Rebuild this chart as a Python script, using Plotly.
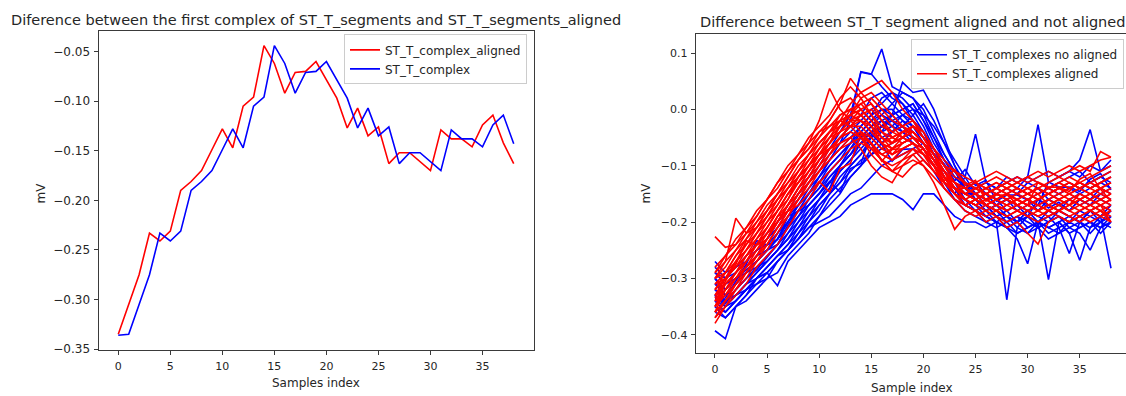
import plotly.graph_objects as go

# ---------------- data ----------------
samples = list(range(39))

# Left panel: first complex
st_t_complex_aligned = [-0.335, -0.305, -0.275, -0.233, -0.241, -0.231, -0.190, -0.181, -0.170, -0.149,
                        -0.128, -0.147, -0.105, -0.096, -0.044, -0.062, -0.092, -0.071, -0.070, -0.060,
                        -0.078, -0.097, -0.127, -0.107, -0.135, -0.126, -0.163, -0.152, -0.152, -0.161,
                        -0.170, -0.129, -0.138, -0.138, -0.146, -0.124, -0.114, -0.142, -0.163]
st_t_complex = [-0.336, -0.335, -0.305, -0.275, -0.233, -0.241, -0.231, -0.190, -0.181, -0.170,
                -0.149, -0.128, -0.147, -0.105, -0.096, -0.044, -0.062, -0.092, -0.071, -0.070,
                -0.060, -0.078, -0.097, -0.127, -0.107, -0.135, -0.126, -0.163, -0.152, -0.152,
                -0.161, -0.170, -0.129, -0.138, -0.138, -0.146, -0.124, -0.114, -0.143]

# Right panel: complexes not aligned (blue)
blue_01 = [-0.330,-0.345,-0.320,-0.300,-0.285,-0.262,-0.240,-0.205,-0.180,-0.150,-0.120,-0.090,-0.060,-0.020,0.066,0.062,0.107,0.040,0.030,0.020,-0.010,-0.050,-0.090,-0.120,-0.140,-0.150,-0.170,-0.160,-0.180,-0.170,-0.190,-0.160,-0.175,-0.165,-0.180,-0.160,-0.170,-0.150,-0.140]
blue_02 = [-0.393,-0.407,-0.350,-0.330,-0.310,-0.300,-0.270,-0.250,-0.220,-0.190,-0.160,-0.140,-0.100,-0.080,-0.050,-0.030,-0.010,-0.020,-0.040,-0.050,-0.070,-0.100,-0.120,-0.140,-0.160,-0.170,-0.180,-0.170,-0.190,-0.200,-0.180,-0.190,-0.200,-0.180,-0.190,-0.200,-0.180,-0.190,-0.170]
blue_03 = [-0.300,-0.320,-0.300,-0.285,-0.270,-0.250,-0.230,-0.210,-0.180,-0.160,-0.130,-0.110,-0.090,-0.060,-0.040,-0.020,0.000,0.000,-0.020,-0.040,-0.060,-0.090,-0.120,-0.140,-0.170,-0.180,-0.190,-0.200,-0.338,-0.210,-0.190,-0.200,-0.190,-0.180,-0.190,-0.200,-0.180,-0.190,-0.180]
blue_04 = [-0.340,-0.350,-0.330,-0.310,-0.290,-0.270,-0.250,-0.220,-0.200,-0.170,-0.150,-0.130,-0.100,-0.080,-0.060,-0.050,-0.030,-0.020,-0.030,-0.050,-0.060,-0.080,-0.110,-0.140,-0.160,-0.170,-0.190,-0.200,-0.210,-0.230,-0.274,-0.200,-0.302,-0.200,-0.190,-0.200,-0.180,-0.200,-0.190]
blue_05 = [-0.310,-0.330,-0.310,-0.290,-0.280,-0.260,-0.240,-0.220,-0.190,-0.170,-0.150,-0.120,-0.100,-0.080,-0.060,-0.040,-0.040,-0.030,-0.040,-0.060,-0.080,-0.100,-0.130,-0.150,-0.170,-0.180,-0.200,-0.210,-0.200,-0.220,-0.210,-0.200,-0.220,-0.210,-0.256,-0.200,-0.210,-0.190,-0.282]
blue_06 = [-0.320,-0.340,-0.320,-0.300,-0.280,-0.270,-0.250,-0.230,-0.200,-0.180,-0.160,-0.130,-0.110,-0.090,-0.060,-0.040,-0.020,-0.010,0.000,0.010,-0.020,-0.060,-0.090,-0.110,-0.130,-0.140,-0.130,-0.140,-0.120,-0.130,-0.120,-0.027,-0.130,-0.120,-0.110,-0.120,-0.100,-0.110,-0.090]
blue_07 = [-0.290,-0.310,-0.300,-0.280,-0.260,-0.250,-0.230,-0.200,-0.180,-0.160,-0.140,-0.120,-0.100,-0.070,-0.050,-0.040,-0.030,-0.040,-0.030,-0.050,-0.070,-0.100,-0.130,-0.150,-0.120,-0.044,-0.130,-0.140,-0.130,-0.120,-0.130,-0.120,-0.110,-0.120,-0.110,-0.090,-0.036,-0.110,-0.100]
blue_08 = [-0.330,-0.350,-0.340,-0.320,-0.300,-0.290,-0.270,-0.250,-0.230,-0.200,-0.180,-0.150,-0.130,-0.100,-0.080,-0.060,-0.040,-0.010,0.048,0.030,0.034,0.000,-0.050,-0.100,-0.130,-0.150,-0.170,-0.180,-0.190,-0.200,-0.180,-0.200,-0.210,-0.200,-0.220,-0.268,-0.210,-0.200,-0.190]
blue_09 = [-0.330,-0.340,-0.330,-0.310,-0.300,-0.290,-0.313,-0.270,-0.250,-0.230,-0.210,-0.200,-0.190,-0.170,-0.160,-0.150,-0.150,-0.150,-0.160,-0.178,-0.150,-0.150,-0.170,-0.190,-0.200,-0.200,-0.210,-0.200,-0.210,-0.220,-0.210,-0.200,-0.210,-0.220,-0.200,-0.210,-0.200,-0.210,-0.200]
blue_10 = [-0.300,-0.320,-0.300,-0.280,-0.260,-0.230,-0.210,-0.180,-0.160,-0.130,-0.100,-0.070,-0.040,-0.010,0.067,0.063,0.040,0.020,0.010,-0.010,-0.040,-0.070,-0.100,-0.120,-0.140,-0.150,-0.160,-0.150,-0.160,-0.150,-0.160,-0.150,-0.140,-0.150,-0.140,-0.150,-0.140,-0.130,-0.140]
blue_11 = [-0.350,-0.360,-0.340,-0.320,-0.300,-0.280,-0.260,-0.240,-0.210,-0.190,-0.170,-0.150,-0.130,-0.110,-0.090,-0.080,-0.070,-0.060,-0.050,-0.060,-0.080,-0.100,-0.130,-0.160,-0.180,-0.190,-0.200,-0.190,-0.210,-0.200,-0.220,-0.210,-0.230,-0.220,-0.210,-0.220,-0.250,-0.210,-0.200]
blue_12 = [-0.280,-0.300,-0.290,-0.270,-0.250,-0.230,-0.200,-0.180,-0.150,-0.130,-0.110,-0.080,-0.060,-0.040,-0.020,0.000,0.010,0.030,0.020,0.000,-0.030,-0.070,-0.100,-0.130,-0.150,-0.150,-0.140,-0.150,-0.140,-0.150,-0.130,-0.140,-0.150,-0.140,-0.130,-0.140,-0.130,-0.120,-0.110]
blue_13 = [-0.360,-0.370,-0.350,-0.330,-0.300,-0.280,-0.260,-0.250,-0.230,-0.210,-0.200,-0.190,-0.170,-0.150,-0.140,-0.120,-0.100,-0.090,-0.080,-0.070,-0.090,-0.110,-0.140,-0.160,-0.170,-0.180,-0.190,-0.200,-0.210,-0.200,-0.190,-0.210,-0.200,-0.190,-0.200,-0.180,-0.190,-0.200,-0.180]
blue_14 = [-0.320,-0.330,-0.310,-0.290,-0.270,-0.250,-0.230,-0.200,-0.170,-0.140,-0.120,-0.090,-0.070,-0.050,-0.030,-0.010,0.020,0.030,0.010,-0.020,-0.050,-0.080,-0.120,-0.140,-0.150,-0.160,-0.150,-0.170,-0.160,-0.170,-0.160,-0.180,-0.160,-0.170,-0.160,-0.150,-0.160,-0.140,-0.150]
blue_15 = [-0.270,-0.290,-0.280,-0.270,-0.250,-0.240,-0.220,-0.190,-0.170,-0.150,-0.130,-0.100,-0.080,-0.060,-0.050,-0.030,-0.020,-0.030,-0.010,-0.030,-0.060,-0.090,-0.110,-0.130,-0.140,-0.130,-0.150,-0.140,-0.130,-0.140,-0.120,-0.130,-0.140,-0.130,-0.120,-0.110,-0.130,-0.120,-0.130]
blue_16 = [-0.340,-0.340,-0.330,-0.310,-0.290,-0.270,-0.250,-0.230,-0.210,-0.180,-0.160,-0.140,-0.110,-0.090,-0.070,-0.050,-0.030,-0.010,0.000,0.010,-0.020,-0.050,-0.080,-0.110,-0.130,-0.160,-0.170,-0.190,-0.200,-0.190,-0.200,-0.210,-0.200,-0.190,-0.210,-0.200,-0.220,-0.200,-0.210]
blue_17 = [-0.300,-0.330,-0.310,-0.290,-0.270,-0.250,-0.240,-0.210,-0.190,-0.160,-0.140,-0.110,-0.090,-0.070,-0.040,-0.020,-0.010,0.010,0.030,0.020,0.000,-0.040,-0.080,-0.110,-0.140,-0.150,-0.160,-0.170,-0.160,-0.180,-0.170,-0.160,-0.170,-0.180,-0.160,-0.170,-0.160,-0.150,-0.160]
blue_18 = [-0.350,-0.370,-0.350,-0.340,-0.320,-0.300,-0.290,-0.260,-0.240,-0.220,-0.190,-0.170,-0.150,-0.120,-0.100,-0.070,-0.050,-0.040,-0.020,-0.030,-0.050,-0.070,-0.100,-0.130,-0.160,-0.180,-0.170,-0.190,-0.180,-0.200,-0.190,-0.200,-0.180,-0.190,-0.200,-0.190,-0.180,-0.170,-0.180]
blue_19 = [-0.290,-0.300,-0.280,-0.260,-0.240,-0.220,-0.200,-0.170,-0.140,-0.120,-0.090,-0.070,-0.050,-0.030,-0.010,0.020,0.030,0.010,-0.010,-0.020,-0.040,-0.080,-0.110,-0.130,-0.150,-0.140,-0.150,-0.160,-0.150,-0.140,-0.150,-0.140,-0.160,-0.150,-0.140,-0.130,-0.140,-0.130,-0.120]
blue_20 = [-0.330,-0.350,-0.330,-0.320,-0.300,-0.280,-0.260,-0.240,-0.220,-0.200,-0.170,-0.150,-0.120,-0.100,-0.080,-0.050,-0.030,-0.020,-0.010,0.000,-0.010,-0.030,-0.060,-0.090,-0.120,-0.150,-0.170,-0.180,-0.200,-0.190,-0.210,-0.200,-0.190,-0.210,-0.200,-0.190,-0.200,-0.210,-0.190]
blue_21 = [-0.310,-0.320,-0.300,-0.290,-0.270,-0.250,-0.220,-0.200,-0.170,-0.150,-0.120,-0.100,-0.080,-0.060,-0.030,-0.010,0.000,-0.010,-0.030,-0.050,-0.060,-0.090,-0.120,-0.150,-0.170,-0.160,-0.180,-0.170,-0.160,-0.170,-0.180,-0.170,-0.160,-0.170,-0.180,-0.160,-0.170,-0.160,-0.170]
blue_22 = [-0.340,-0.360,-0.340,-0.320,-0.310,-0.290,-0.270,-0.250,-0.230,-0.210,-0.190,-0.160,-0.140,-0.120,-0.100,-0.080,-0.060,-0.040,-0.030,-0.010,0.010,-0.020,-0.060,-0.100,-0.140,-0.160,-0.180,-0.200,-0.190,-0.210,-0.220,-0.200,-0.210,-0.200,-0.220,-0.210,-0.200,-0.220,-0.200]

# Right panel: complexes aligned (red)
red_01 = [-0.226,-0.245,-0.240,-0.220,-0.200,-0.180,-0.150,-0.130,-0.100,-0.080,-0.060,-0.040,-0.030,-0.020,-0.020,-0.040,-0.060,-0.070,-0.060,-0.050,-0.070,-0.090,-0.110,-0.130,-0.140,-0.150,-0.140,-0.150,-0.140,-0.150,-0.140,-0.150,-0.140,-0.130,-0.140,-0.130,-0.140,-0.130,-0.120]
red_02 = [-0.300,-0.270,-0.193,-0.220,-0.210,-0.180,-0.150,-0.120,-0.090,-0.060,-0.020,0.037,0.000,-0.020,-0.040,-0.060,-0.080,-0.090,-0.080,-0.070,-0.090,-0.110,-0.130,-0.150,-0.160,-0.150,-0.170,-0.160,-0.150,-0.160,-0.170,-0.160,-0.150,-0.160,-0.150,-0.140,-0.150,-0.140,-0.150]
red_03 = [-0.320,-0.300,-0.280,-0.250,-0.220,-0.200,-0.170,-0.140,-0.110,-0.080,-0.050,-0.020,0.010,0.055,0.030,0.010,-0.020,-0.040,-0.050,-0.040,-0.060,-0.090,-0.120,-0.140,-0.150,-0.160,-0.150,-0.160,-0.170,-0.160,-0.150,-0.160,-0.150,-0.140,-0.150,-0.160,-0.150,-0.140,-0.130]
red_04 = [-0.340,-0.320,-0.300,-0.280,-0.250,-0.230,-0.200,-0.170,-0.140,-0.110,-0.080,-0.050,-0.020,0.010,0.030,0.040,0.051,0.030,0.000,-0.020,-0.050,-0.080,-0.110,-0.130,-0.150,-0.160,-0.170,-0.160,-0.170,-0.160,-0.170,-0.180,-0.170,-0.160,-0.170,-0.160,-0.150,-0.160,-0.150]
red_05 = [-0.360,-0.340,-0.310,-0.290,-0.270,-0.240,-0.210,-0.190,-0.160,-0.130,-0.110,-0.090,-0.070,-0.060,-0.050,-0.070,-0.090,-0.100,-0.090,-0.080,-0.100,-0.130,-0.170,-0.213,-0.190,-0.180,-0.200,-0.190,-0.210,-0.200,-0.220,-0.239,-0.200,-0.190,-0.200,-0.190,-0.200,-0.190,-0.200]
red_06 = [-0.310,-0.290,-0.270,-0.240,-0.220,-0.190,-0.160,-0.130,-0.110,-0.080,-0.060,-0.040,-0.020,-0.010,-0.020,-0.040,-0.060,-0.050,-0.040,-0.030,-0.050,-0.080,-0.100,-0.120,-0.130,-0.140,-0.130,-0.120,-0.130,-0.120,-0.130,-0.120,-0.110,-0.120,-0.110,-0.100,-0.110,-0.075,-0.085]
red_07 = [-0.380,-0.350,-0.320,-0.300,-0.270,-0.250,-0.220,-0.190,-0.160,-0.140,-0.110,-0.090,-0.070,-0.050,-0.040,-0.060,-0.080,-0.090,-0.070,-0.060,-0.080,-0.100,-0.130,-0.150,-0.170,-0.180,-0.170,-0.180,-0.190,-0.180,-0.170,-0.180,-0.190,-0.180,-0.190,-0.180,-0.170,-0.180,-0.200]
red_08 = [-0.330,-0.310,-0.290,-0.260,-0.230,-0.210,-0.180,-0.160,-0.120,-0.100,-0.070,-0.050,-0.030,0.000,0.010,-0.010,-0.030,-0.040,-0.030,-0.020,-0.040,-0.070,-0.100,-0.130,-0.140,-0.150,-0.140,-0.130,-0.140,-0.150,-0.140,-0.130,-0.140,-0.150,-0.140,-0.130,-0.140,-0.150,-0.140]
red_09 = [-0.350,-0.320,-0.300,-0.270,-0.250,-0.220,-0.190,-0.170,-0.140,-0.120,-0.090,-0.070,-0.060,-0.050,-0.070,-0.100,-0.120,-0.130,-0.100,-0.080,-0.070,-0.090,-0.110,-0.140,-0.160,-0.170,-0.160,-0.170,-0.180,-0.170,-0.160,-0.170,-0.180,-0.170,-0.160,-0.170,-0.180,-0.170,-0.160]
red_10 = [-0.290,-0.270,-0.250,-0.230,-0.200,-0.170,-0.150,-0.120,-0.090,-0.070,-0.040,-0.020,0.010,0.020,0.000,-0.020,-0.050,-0.060,-0.040,-0.030,-0.050,-0.070,-0.090,-0.110,-0.130,-0.140,-0.150,-0.140,-0.130,-0.140,-0.150,-0.140,-0.130,-0.120,-0.130,-0.140,-0.130,-0.120,-0.110]
red_11 = [-0.340,-0.330,-0.310,-0.290,-0.260,-0.240,-0.210,-0.180,-0.150,-0.130,-0.100,-0.080,-0.050,-0.030,-0.010,0.000,-0.020,-0.050,-0.060,-0.050,-0.060,-0.080,-0.110,-0.140,-0.150,-0.160,-0.170,-0.160,-0.150,-0.170,-0.160,-0.150,-0.170,-0.160,-0.170,-0.150,-0.160,-0.170,-0.160]
red_12 = [-0.300,-0.280,-0.250,-0.220,-0.190,-0.160,-0.130,-0.100,-0.080,-0.050,-0.030,-0.010,0.020,0.040,0.020,-0.010,-0.040,-0.060,-0.050,-0.040,-0.060,-0.090,-0.120,-0.140,-0.150,-0.140,-0.150,-0.160,-0.150,-0.140,-0.150,-0.160,-0.150,-0.140,-0.130,-0.140,-0.130,-0.140,-0.130]
red_13 = [-0.370,-0.350,-0.330,-0.310,-0.280,-0.260,-0.240,-0.210,-0.180,-0.160,-0.130,-0.110,-0.090,-0.070,-0.060,-0.070,-0.090,-0.110,-0.100,-0.090,-0.100,-0.120,-0.140,-0.160,-0.180,-0.190,-0.180,-0.190,-0.200,-0.190,-0.180,-0.190,-0.180,-0.190,-0.200,-0.190,-0.180,-0.190,-0.180]
red_14 = [-0.320,-0.300,-0.280,-0.260,-0.240,-0.210,-0.180,-0.150,-0.130,-0.100,-0.080,-0.060,-0.040,-0.030,-0.030,-0.050,-0.070,-0.060,-0.040,-0.030,-0.040,-0.070,-0.100,-0.110,-0.120,-0.130,-0.120,-0.110,-0.120,-0.130,-0.120,-0.110,-0.120,-0.110,-0.100,-0.110,-0.100,-0.090,-0.085]
red_15 = [-0.350,-0.330,-0.300,-0.280,-0.260,-0.230,-0.200,-0.170,-0.150,-0.120,-0.100,-0.070,-0.050,-0.040,-0.050,-0.080,-0.100,-0.110,-0.090,-0.070,-0.080,-0.100,-0.120,-0.150,-0.170,-0.160,-0.170,-0.180,-0.170,-0.160,-0.170,-0.180,-0.170,-0.180,-0.170,-0.160,-0.170,-0.180,-0.170]
red_16 = [-0.310,-0.300,-0.270,-0.250,-0.230,-0.200,-0.180,-0.150,-0.120,-0.100,-0.080,-0.060,-0.030,-0.010,0.010,0.020,0.000,-0.020,-0.030,-0.040,-0.060,-0.080,-0.110,-0.130,-0.150,-0.140,-0.150,-0.140,-0.150,-0.160,-0.150,-0.140,-0.150,-0.160,-0.150,-0.160,-0.150,-0.140,-0.150]
red_17 = [-0.280,-0.260,-0.240,-0.210,-0.190,-0.160,-0.140,-0.110,-0.090,-0.070,-0.050,-0.030,-0.020,-0.030,-0.050,-0.070,-0.080,-0.070,-0.050,-0.040,-0.060,-0.090,-0.120,-0.140,-0.150,-0.140,-0.150,-0.140,-0.130,-0.140,-0.150,-0.140,-0.150,-0.140,-0.130,-0.140,-0.150,-0.160,-0.150]
red_18 = [-0.360,-0.320,-0.290,-0.270,-0.240,-0.220,-0.190,-0.160,-0.130,-0.110,-0.090,-0.060,-0.040,-0.020,-0.010,-0.030,-0.060,-0.080,-0.070,-0.060,-0.070,-0.100,-0.130,-0.150,-0.160,-0.170,-0.160,-0.170,-0.180,-0.170,-0.180,-0.170,-0.160,-0.170,-0.180,-0.170,-0.180,-0.190,-0.180]
red_19 = [-0.330,-0.300,-0.270,-0.250,-0.220,-0.190,-0.170,-0.140,-0.110,-0.090,-0.060,-0.040,-0.010,0.000,-0.010,-0.030,-0.050,-0.070,-0.060,-0.050,-0.060,-0.090,-0.110,-0.130,-0.140,-0.150,-0.160,-0.150,-0.160,-0.150,-0.160,-0.170,-0.160,-0.150,-0.160,-0.170,-0.160,-0.150,-0.160]
red_20 = [-0.350,-0.310,-0.290,-0.260,-0.240,-0.210,-0.180,-0.150,-0.130,-0.100,-0.070,-0.050,-0.040,-0.020,0.000,-0.020,-0.040,-0.050,-0.040,-0.040,-0.060,-0.080,-0.110,-0.140,-0.160,-0.170,-0.160,-0.150,-0.160,-0.170,-0.160,-0.170,-0.180,-0.170,-0.160,-0.150,-0.160,-0.170,-0.180]
red_21 = [-0.300,-0.290,-0.260,-0.240,-0.210,-0.190,-0.160,-0.140,-0.120,-0.090,-0.070,-0.040,-0.020,-0.010,0.020,0.030,0.010,-0.010,-0.030,-0.050,-0.070,-0.100,-0.120,-0.140,-0.140,-0.130,-0.140,-0.130,-0.140,-0.130,-0.120,-0.130,-0.140,-0.130,-0.120,-0.130,-0.120,-0.110,-0.100]
red_22 = [-0.370,-0.340,-0.320,-0.290,-0.260,-0.240,-0.210,-0.180,-0.160,-0.130,-0.110,-0.080,-0.060,-0.050,-0.040,-0.050,-0.070,-0.080,-0.060,-0.050,-0.070,-0.100,-0.140,-0.160,-0.170,-0.180,-0.190,-0.180,-0.190,-0.180,-0.190,-0.200,-0.190,-0.180,-0.190,-0.200,-0.190,-0.180,-0.190]
red_23 = [-0.320,-0.290,-0.260,-0.230,-0.210,-0.180,-0.160,-0.140,-0.120,-0.100,-0.080,-0.070,-0.050,-0.040,-0.050,-0.060,-0.090,-0.110,-0.120,-0.100,-0.090,-0.110,-0.130,-0.140,-0.150,-0.160,-0.150,-0.140,-0.150,-0.140,-0.150,-0.160,-0.150,-0.140,-0.150,-0.140,-0.130,-0.140,-0.130]
red_24 = [-0.340,-0.310,-0.290,-0.270,-0.240,-0.220,-0.200,-0.170,-0.140,-0.110,-0.080,-0.060,-0.030,-0.010,0.000,0.010,-0.010,-0.030,-0.050,-0.060,-0.080,-0.110,-0.130,-0.150,-0.170,-0.160,-0.170,-0.180,-0.170,-0.180,-0.190,-0.180,-0.170,-0.180,-0.170,-0.180,-0.170,-0.160,-0.170]
red_25 = [-0.290,-0.260,-0.230,-0.210,-0.180,-0.160,-0.130,-0.110,-0.080,-0.060,-0.040,-0.030,-0.010,0.000,-0.010,-0.030,-0.060,-0.080,-0.070,-0.060,-0.080,-0.100,-0.120,-0.130,-0.140,-0.130,-0.140,-0.150,-0.140,-0.130,-0.140,-0.150,-0.140,-0.130,-0.140,-0.130,-0.140,-0.130,-0.120]
red_26 = [-0.360,-0.340,-0.310,-0.280,-0.260,-0.230,-0.200,-0.180,-0.150,-0.120,-0.090,-0.070,-0.050,-0.030,-0.020,-0.030,-0.050,-0.060,-0.050,-0.030,-0.050,-0.080,-0.120,-0.150,-0.160,-0.170,-0.180,-0.170,-0.160,-0.170,-0.180,-0.190,-0.180,-0.170,-0.180,-0.190,-0.180,-0.170,-0.200]

blue_series = [st_t_complex, blue_01, blue_02, blue_03, blue_04, blue_05, blue_06, blue_07, blue_08,
               blue_09, blue_10, blue_11, blue_12, blue_13, blue_14, blue_15, blue_16, blue_17,
               blue_18, blue_19, blue_20, blue_21, blue_22]
red_series = [st_t_complex_aligned, red_01, red_02, red_03, red_04, red_05, red_06, red_07, red_08, red_09,
              red_10, red_11, red_12, red_13, red_14, red_15, red_16, red_17, red_18, red_19, red_20,
              red_21, red_22, red_23, red_24, red_25, red_26]

# ---------------- layout helpers ----------------
W, H = 1126, 396
def px(x):
    return x / W
def py(y):
    return (H - y) / H

RED = "#ff0000"
BLUE = "#0000ff"
FONT = "DejaVu Sans"
TXT = "#262626"
AX = "#3a3a3a"
LW = 1.6

fig = go.Figure()

# left panel
fig.add_trace(go.Scatter(x=samples, y=st_t_complex_aligned, mode="lines", name="ST_T_complex_aligned",
                         line=dict(color=RED, width=LW), xaxis="x", yaxis="y", legend="legend"))
fig.add_trace(go.Scatter(x=samples, y=st_t_complex, mode="lines", name="ST_T_complex",
                         line=dict(color=BLUE, width=LW), xaxis="x", yaxis="y", legend="legend"))

# right panel
for k, s in enumerate(blue_series):
    fig.add_trace(go.Scatter(x=samples, y=s, mode="lines", name="ST_T_complexes no aligned",
                             line=dict(color=BLUE, width=LW), xaxis="x2", yaxis="y2",
                             legend="legend2", showlegend=(k == 0), legendgroup="b"))
for k, s in enumerate(red_series):
    fig.add_trace(go.Scatter(x=samples, y=s, mode="lines", name="ST_T_complexes aligned",
                             line=dict(color=RED, width=LW), xaxis="x2", yaxis="y2",
                             legend="legend2", showlegend=(k == 0), legendgroup="r"))

def axis_style(fs, standoff=0):
    return dict(showgrid=False, zeroline=False, showline=True, linecolor=AX, linewidth=1,
                ticks="outside", ticklen=4, tickwidth=1, tickcolor=AX, ticklabelstandoff=standoff,
                tickfont=dict(family=FONT, size=fs, color=TXT))

fig.update_layout(
    width=W, height=H,
    margin=dict(l=0, r=0, t=0, b=0),
    paper_bgcolor="white", plot_bgcolor="white",
    font=dict(family=FONT, color=TXT),
    xaxis=dict(domain=[px(98.5), px(533.5)], range=[-1.9, 39.9], dtick=5, tick0=0,
               mirror=True, anchor="y", **axis_style(11, 2)),
    yaxis=dict(domain=[py(356), py(31.7)], range=[-0.3506, -0.0294], dtick=0.05, tick0=-0.35,
               tickformat=".2f", mirror=True, anchor="x", **axis_style(12, 1)),
    xaxis2=dict(domain=[px(695.7), 1.0], range=[-1.85, 39.44], dtick=5, tick0=0,
                mirror=True, anchor="y2", **axis_style(11, 2)),
    yaxis2=dict(domain=[py(359.3), py(34.3)], range=[-0.4324, 0.1343], dtick=0.1, tick0=0,
                tickformat=".1f", anchor="x2", **axis_style(11, 1)),
    legend=dict(x=px(527), y=py(35), xanchor="right", yanchor="top",
                bgcolor="rgba(255,255,255,0.85)", bordercolor="#cccccc", borderwidth=1,
                font=dict(family=FONT, size=12, color=TXT), tracegroupgap=0),
    legend2=dict(x=px(1124), y=py(40), xanchor="right", yanchor="top",
                 bgcolor="rgba(255,255,255,0.85)", bordercolor="#cccccc", borderwidth=1,
                 font=dict(family=FONT, size=12, color=TXT), tracegroupgap=0),
    showlegend=True,
)

ann = [
    dict(text="Diference between the first complex of ST_T_segments and ST_T_segments_aligned",
         x=px(316), y=py(20.5), size=14.5, angle=0),
    dict(text="Difference between ST_T segment aligned and not aligned",
         x=px(912), y=py(22.5), size=14.5, angle=0),
    dict(text="mV", x=px(41), y=py(197), size=12, angle=-90),
    dict(text="mV", x=px(646), y=py(197), size=12, angle=-90),
    dict(text="Samples index", x=px(316), y=py(390), size=12, angle=0),
    dict(text="Sample index", x=px(912), y=py(395), size=12, angle=0),
]
for a in ann:
    fig.add_annotation(text=a["text"], x=a["x"], y=a["y"], xref="paper", yref="paper",
                       xanchor="center", yanchor="middle", showarrow=False, textangle=a["angle"],
                       font=dict(family=FONT, size=a["size"], color=TXT))

fig.write_html("out.html")
